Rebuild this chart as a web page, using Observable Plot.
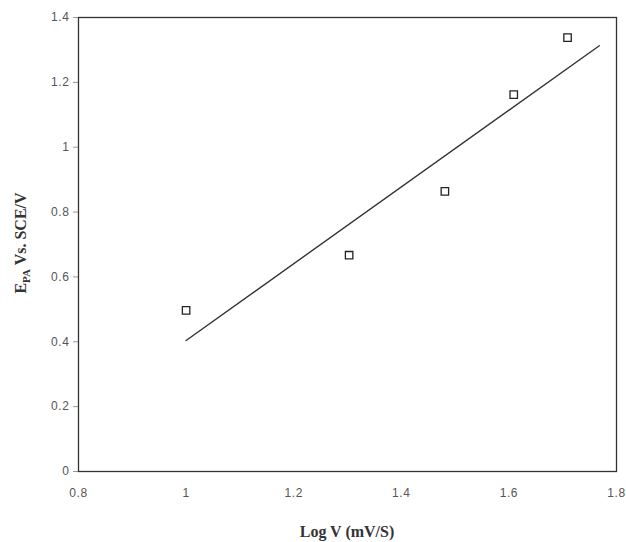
<!DOCTYPE html>
<html>
<head>
<meta charset="utf-8">
<script src="https://cdn.jsdelivr.net/npm/d3@7"></script>
<script src="https://cdn.jsdelivr.net/npm/@observablehq/plot@0.6"></script>
<style>
  html, body { margin: 0; padding: 0; background: #fff; }
  #chart svg { display: block; }
</style>
</head>
<body>
<div id="chart"></div>
<script>
// Data
const logV = [1.0, 1.303, 1.481, 1.609, 1.709];
const epa = [0.497, 0.667, 0.864, 1.162, 1.338];
const fitX = [1.0, 1.768];
const fitY = [0.404, 1.313];
const xTicks = [0.8, 1.0, 1.2, 1.4, 1.6, 1.8];
const yTicks = [0, 0.2, 0.4, 0.6, 0.8, 1.0, 1.2, 1.4];
const xLabel = "Log V (mV/S)";
const yLabelMain = "E";
const yLabelSub = "PA";
const yLabelRest = " Vs. SCE/V";

const points = logV.map((x, i) => ({x, y: epa[i]}));
const fit = fitX.map((x, i) => ({x, y: fitY[i]}));

const plot = Plot.plot({
  width: 626,
  height: 542,
  marginLeft: 78,
  marginRight: 10,
  marginTop: 17,
  marginBottom: 71,
  style: {background: "#fff", fontFamily: "Arial, 'Liberation Sans', sans-serif", fontSize: "12px", color: "#555", letterSpacing: "0.6px"},
  x: {domain: [0.8, 1.8], ticks: xTicks, label: null},
  y: {domain: [0, 1.4], ticks: yTicks, label: null},
  marks: [
    Plot.axisX({ticks: xTicks, tickSize: 0, tickPadding: 17, label: null, fill: "#555", tickFormat: d => String(+d.toFixed(1))}),
    Plot.axisY({ticks: yTicks, tickSize: 5, tickPadding: 4, label: null, fill: "#555", stroke: "#999", tickFormat: d => String(+d.toFixed(1))}),
    Plot.frame({stroke: "#333", strokeWidth: 1.3}),
    Plot.line(fit, {x: "x", y: "y", stroke: "#333", strokeWidth: 1.4}),
    Plot.dot(points, {x: "x", y: "y", symbol: "square", r: 4.2, stroke: "#222", strokeWidth: 1.3, fill: "none"})
  ]
});

document.getElementById("chart").appendChild(plot);

// Axis titles (serif bold, with subscript on y title)
const svg = d3.select(plot);
svg.append("text")
  .attr("x", 347)
  .attr("y", 537)
  .attr("text-anchor", "middle")
  .attr("font-family", "'Liberation Serif', 'Times New Roman', serif")
  .attr("font-weight", "bold")
  .attr("font-size", 16)
  .attr("letter-spacing", "0px")
  .attr("fill", "#333")
  .text(xLabel);

const yt = svg.append("text")
  .attr("transform", "translate(26,243) rotate(-90)")
  .attr("text-anchor", "middle")
  .attr("font-family", "'Liberation Serif', 'Times New Roman', serif")
  .attr("font-weight", "bold")
  .attr("font-size", 16)
  .attr("letter-spacing", "0px")
  .attr("fill", "#333");
yt.append("tspan").text(yLabelMain);
yt.append("tspan").attr("font-size", 11).attr("dy", 4).text(yLabelSub);
yt.append("tspan").attr("dy", -4).text(yLabelRest);
</script>
</body>
</html>
